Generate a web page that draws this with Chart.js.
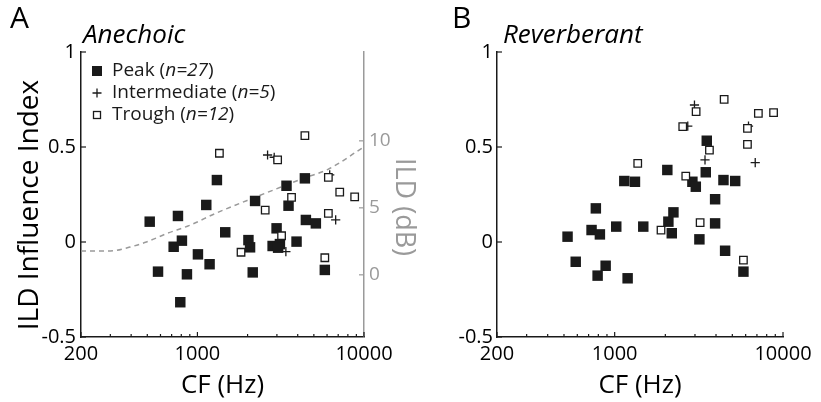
<!DOCTYPE html>
<html>
<head>
<meta charset="utf-8">
<script src="https://cdn.jsdelivr.net/npm/chart.js@4.4.1/dist/chart.umd.min.js"></script>
<style>
  body { margin: 0; background: #fff; }
  #wrap { position: relative; width: 821px; height: 402px; }
  canvas { position: absolute; top: 0; }
  #chartA { left: 0; }
  #chartB { left: 420px; }
</style>
</head>
<body>
<div id="wrap">
  <canvas id="chartA" width="420" height="402"></canvas>
  <canvas id="chartB" width="401" height="402"></canvas>
</div>
<script>
// values (CF in Hz, ILD influence index)

// A - anechoic
const peakCF_A = [517, 580, 764, 720, 807, 865, 789, 1007, 1130, 1183, 1309, 1469, 2024, 2070,
  2148, 2219, 2827, 2987, 3127, 3426, 3523, 3936, 4417, 4478, 5140, 5818, 3050];
const peakIdx_A = [0.107, -0.156, 0.137, -0.025, 0.007, -0.17, -0.317, -0.065, 0.195, -0.117, 0.326, 0.051, 0.01, -0.028,
  -0.16, 0.216, -0.021, 0.072, -0.011, 0.296, 0.191, 0.002, 0.335, 0.116, 0.098, -0.147, -0.03];
const interCF_A = [2637, 2890, 3396, 6225, 6760];
const interIdx_A = [0.458, 0.446, -0.051, 0.353, 0.116];
const troughCF_A = [1355, 1827, 2552, 3030, 3200, 3673, 4417, 6110, 6110, 5818, 7150, 8790];
const troughIdx_A = [0.467, -0.054, 0.168, 0.432, 0.033, 0.235, 0.56, 0.34, 0.151, -0.083, 0.262, 0.238];

// dashed ILD curve (dB, right axis)
const ildCF = [200, 300, 393, 494, 651, 897, 1297, 2244, 4417, 6080, 10000];
const ildDB = [1.78, 1.78, 2.07, 2.45, 3.07, 3.69, 4.61, 5.81, 7.24, 7.87, 9.55];

// B - reverberant
const peakCF_B = [525, 587, 729, 773, 817, 792, 884, 1022, 1141, 1320, 1194, 1479, 2055, 2085,
  2234, 2184, 2896, 3034, 3187, 3525, 3477, 3951, 3951, 4429, 5200, 4530, 5820];
const peakIdx_B = [0.028, -0.104, 0.063, 0.177, 0.04, -0.177, -0.125, 0.081, 0.321, 0.317, -0.191, 0.081, 0.379, 0.107,
  0.156, 0.046, 0.317, 0.291, 0.014, 0.533, 0.367, 0.225, 0.098, 0.326, 0.321, -0.046, -0.156];
const interCF_B = [2979, 2718, 3441, 6238, 6840];
const interIdx_B = [0.721, 0.61, 0.432, 0.61, 0.418];
const troughCF_B = [1371, 1885, 2538, 2645, 3047, 3219, 3656, 4471, 6150, 6150, 5820, 7140, 8790];
const troughIdx_B = [0.414, 0.063, 0.607, 0.347, 0.686, 0.102, 0.484, 0.751, 0.598, 0.514, -0.095, 0.677, 0.681];

// axes / labels
const xTicks = [200, 300, 400, 500, 600, 700, 800, 900, 1000, 2000, 3000, 4000, 5000, 6000, 7000, 8000, 9000, 10000];
const xLabelled = [200, 1000, 10000];
const yTicks = [-0.5, 0, 0.5, 1];
const ildTicks = [0, 5, 10];
const legendNames = ["Peak", "Intermediate", "Trough"];
const legendCounts = [27, 5, 12];

const FONT = "'Open Sans', sans-serif";
const INK = "#1a1a1a";
const GREY = "#9a9a9a";

function pts(xs, ys) {
  return xs.map((x, i) => ({ x: x, y: ys[i] }));
}

function groupSets(pCF, pIdx, iCF, iIdx, tCF, tIdx) {
  return [
    { label: "Trough", data: pts(tCF, tIdx), pointStyle: "rect", pointRadius: 5.3,
      backgroundColor: "#fff", borderColor: INK, borderWidth: 1.3, order: 1 },
    { label: "Intermediate", data: pts(iCF, iIdx), pointStyle: "cross", pointRadius: 4.6,
      borderColor: INK, borderWidth: 1.3, order: 2 },
    { label: "Peak", data: pts(pCF, pIdx), pointStyle: "rect", pointRadius: 7.4,
      backgroundColor: INK, borderWidth: 0, order: 3 }
  ];
}

// matlab style ticks pointing into the axes
const innerTicks = {
  id: "innerTicks",
  afterDraw(chart) {
    const ctx = chart.ctx;
    const area = chart.chartArea;
    ctx.save();
    ctx.lineWidth = 1.2;
    ctx.strokeStyle = INK;
    const x = chart.scales.x;
    x.ticks.forEach(t => {
      const px = x.getPixelForValue(t.value);
      const len = xLabelled.includes(t.value) ? 5 : 3;
      ctx.beginPath();
      ctx.moveTo(px, area.bottom);
      ctx.lineTo(px, area.bottom - len);
      ctx.stroke();
    });
    const y = chart.scales.y;
    y.ticks.forEach(t => {
      const py = y.getPixelForValue(t.value);
      ctx.beginPath();
      ctx.moveTo(area.left, py);
      ctx.lineTo(area.left + 5, py);
      ctx.stroke();
    });
    const ild = chart.scales.ild;
    if (ild) {
      ctx.strokeStyle = GREY;
      ild.ticks.forEach(t => {
        const py = ild.getPixelForValue(t.value);
        ctx.beginPath();
        ctx.moveTo(area.right, py);
        ctx.lineTo(area.right - 5, py);
        ctx.stroke();
      });
    }
    ctx.restore();
  }
};

// panel letter, condition name and the rotated axis titles
const panelTitle = {
  id: "panelTitle",
  afterDraw(chart, args, opts) {
    const ctx = chart.ctx;
    ctx.save();
    ctx.fillStyle = "#000";
    ctx.textBaseline = "alphabetic";
    ctx.font = "30px " + FONT;
    ctx.fillText(opts.letter, opts.letterX, 28);
    ctx.font = "italic 26px " + FONT;
    ctx.fillText(opts.name, 83, 43);
    ctx.textAlign = "center";
    ctx.textBaseline = "middle";
    if (opts.yTitle) {
      ctx.save();
      ctx.translate(30, 205);
      ctx.rotate(-Math.PI / 2);
      ctx.font = "28px " + FONT;
      ctx.fillText(opts.yTitle, 0, 0);
      ctx.restore();
    }
    if (opts.ildTitle) {
      ctx.save();
      ctx.translate(404, 207);
      ctx.rotate(Math.PI / 2);
      ctx.font = "27px " + FONT;
      ctx.fillStyle = GREY;
      ctx.fillText(opts.ildTitle, 0, 0);
      ctx.restore();
    }
    ctx.restore();
  }
};

// legend with italic n=..
const legendA = {
  id: "legendA",
  afterDraw(chart, args, opts) {
    if (!opts.show) return;
    const ctx = chart.ctx;
    ctx.save();
    ctx.textBaseline = "middle";
    ctx.fillStyle = INK;
    ctx.strokeStyle = INK;
    ctx.lineWidth = 1.3;
    legendNames.forEach((name, i) => {
      const cy = 71 + i * 22;
      const cx = 97;
      if (i === 0) {
        ctx.fillRect(cx - 5, cy - 5, 10, 10);
      } else if (i === 1) {
        ctx.beginPath();
        ctx.moveTo(cx - 4.5, cy); ctx.lineTo(cx + 4.5, cy);
        ctx.moveTo(cx, cy - 4.5); ctx.lineTo(cx, cy + 4.5);
        ctx.stroke();
      } else {
        ctx.strokeRect(cx - 3.5, cy - 3.5, 7, 7);
      }
      let x = 112;
      ctx.font = "19px " + FONT;
      const head = name + " (";
      ctx.fillText(head, x, cy);
      x += ctx.measureText(head).width;
      ctx.font = "italic 19px " + FONT;
      const mid = "n=" + legendCounts[i];
      ctx.fillText(mid, x, cy);
      x += ctx.measureText(mid).width;
      ctx.font = "19px " + FONT;
      ctx.fillText(")", x, cy);
    });
    ctx.restore();
  }
};

function xScale() {
  return {
    type: "logarithmic",
    min: 200,
    max: 10000,
    afterBuildTicks: s => { s.ticks = xTicks.map(v => ({ value: v })); },
    afterFit: s => { s.height = 65; },
    grid: { display: false, drawTicks: false },
    border: { color: INK, width: 1.5 },
    ticks: {
      autoSkip: false, maxRotation: 0, padding: 5, color: "#000",
      font: { family: FONT, size: 20 },
      callback: v => xLabelled.includes(v) ? String(v) : ""
    },
    title: { display: true, text: "CF (Hz)", color: "#000",
      font: { family: FONT, size: 26 }, padding: { top: 0, bottom: 1 } }
  };
}

function yScale(width, pad) {
  return {
    min: -0.5,
    max: 1,
    afterBuildTicks: s => { s.ticks = yTicks.map(v => ({ value: v })); },
    afterFit: s => { s.width = width; },
    grid: { display: false, drawTicks: false },
    border: { color: INK, width: 1.5 },
    ticks: { padding: pad, color: "#000", font: { family: FONT, size: 20 },
      callback: v => String(v) }
  };
}

// panel A
const setsA = groupSets(peakCF_A, peakIdx_A, interCF_A, interIdx_A, troughCF_A, troughIdx_A);
setsA.push({
  type: "line", label: "ILD", yAxisID: "ild", data: pts(ildCF, ildDB),
  borderColor: GREY, borderWidth: 1.5, borderDash: [5, 4], pointRadius: 0,
  cubicInterpolationMode: "monotone", fill: false, order: 4
});

new Chart(document.getElementById("chartA"), {
  type: "scatter",
  data: { datasets: setsA },
  options: {
    responsive: false,
    animation: false,
    events: [],
    layout: { padding: { top: 52, left: 0, right: 0, bottom: 0 } },
    plugins: {
      legend: { display: false },
      tooltip: { enabled: false },
      panelTitle: { letter: "A", letterX: 10, name: "Anechoic",
        yTitle: "ILD Influence Index", ildTitle: "ILD (dB)" },
      legendA: { show: true }
    },
    scales: {
      x: xScale(),
      y: yScale(81, 5),
      ild: {
        position: "right",
        min: -4.64,
        max: 16.63,
        afterBuildTicks: s => { s.ticks = ildTicks.map(v => ({ value: v })); },
        afterFit: s => { s.width = 56; },
        grid: { display: false, drawTicks: false },
        border: { color: GREY, width: 1.5 },
        ticks: { padding: 5, color: GREY, font: { family: FONT, size: 19 } }
      }
    }
  },
  plugins: [innerTicks, panelTitle, legendA]
});

// panel B
new Chart(document.getElementById("chartB"), {
  type: "scatter",
  data: { datasets: groupSets(peakCF_B, peakIdx_B, interCF_B, interIdx_B, troughCF_B, troughIdx_B) },
  options: {
    responsive: false,
    animation: false,
    events: [],
    layout: { padding: { top: 52, left: 0, right: 38, bottom: 0 } },
    plugins: {
      legend: { display: false },
      tooltip: { enabled: false },
      panelTitle: { letter: "B", letterX: 32, name: "Reverberant" },
      legendA: { show: false }
    },
    scales: {
      x: xScale(),
      y: yScale(77, 4)
    }
  },
  plugins: [innerTicks, panelTitle, legendA]
});
</script>
</body>
</html>
